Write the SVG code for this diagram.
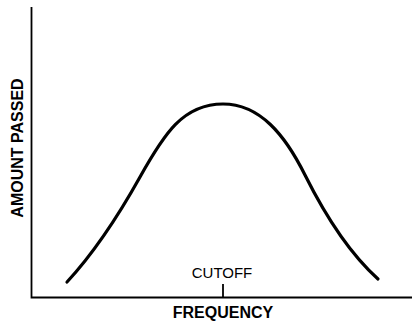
<svg xmlns="http://www.w3.org/2000/svg" width="412" height="321" viewBox="0 0 412 321">
<style>
.axis{fill:none;stroke:#000;stroke-width:1.8}
.curve{fill:none;stroke:#000;stroke-width:3.2;stroke-linecap:round;stroke-linejoin:round}
.lbl{font-family:"Liberation Sans",Arial,sans-serif;fill:#000}
.b{font-weight:bold;font-size:16px}
.r{font-size:15px}
</style>
<rect width="412" height="321" fill="#fff"/>
<g id="axes">
<path class="axis" d="M31.5,7 V297.5 H412"/>
<path class="axis" d="M223,284 V297.5" stroke-width="1.4"/>
</g>
<g id="curve">
<path class="curve" d="M67,282 C91,256 116,220 140,177 C164,134 183,104 223,104 C260,104 285,135 305,175 C323,211 348,252 378,279"/>
</g>
<g id="labels">
<text class="lbl r" x="222" y="278" text-anchor="middle">CUTOFF</text>
<text class="lbl b" x="223" y="318" text-anchor="middle">FREQUENCY</text>
<text class="lbl b" transform="translate(23,148) rotate(-90)" text-anchor="middle">AMOUNT PASSED</text>
</g>
</svg>
